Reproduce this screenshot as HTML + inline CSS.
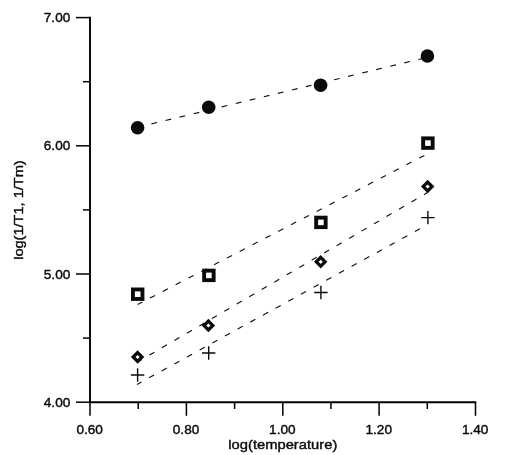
<!DOCTYPE html>
<html><head><meta charset="utf-8"><title>log(1/T1, 1/Tm) vs log(temperature)</title>
<style>html,body{margin:0;padding:0;background:#fff}body{width:508px;height:455px;overflow:hidden}</style></head>
<body>
<svg width="508" height="455" viewBox="0 0 508 455" style="display:block">
<rect width="508" height="455" fill="#fff"/>
<g stroke="#000" stroke-width="1.5" fill="none" stroke-linecap="butt">
<path d="M90.0,16.85 V402.2 H476.25" stroke-width="1.9" stroke-linejoin="miter"/>
<path d="M76.0,402.2 H90.0"/>
<path d="M83.0,338.1 H90.0"/>
<path d="M76.0,274.0 H90.0"/>
<path d="M83.0,209.9 H90.0"/>
<path d="M76.0,145.8 H90.0"/>
<path d="M83.0,81.7 H90.0"/>
<path d="M76.0,17.6 H90.0"/>
<path d="M90.0,402.2 V415.8"/>
<path d="M138.2,402.2 V409.0"/>
<path d="M186.4,402.2 V415.8"/>
<path d="M234.6,402.2 V409.0"/>
<path d="M282.8,402.2 V415.8"/>
<path d="M330.9,402.2 V409.0"/>
<path d="M379.1,402.2 V415.8"/>
<path d="M427.3,402.2 V409.0"/>
<path d="M475.5,402.2 V415.8"/>
</g>
<g font-family="'Liberation Sans', Arial, sans-serif" font-size="13.4" fill="#0a0a0a" stroke="#0a0a0a" stroke-width="0.4">
<text x="43.8" y="406.8" textLength="26.5" lengthAdjust="spacingAndGlyphs">4.00</text>
<text x="43.8" y="278.6" textLength="26.5" lengthAdjust="spacingAndGlyphs">5.00</text>
<text x="43.8" y="150.4" textLength="26.5" lengthAdjust="spacingAndGlyphs">6.00</text>
<text x="43.8" y="22.2" textLength="26.5" lengthAdjust="spacingAndGlyphs">7.00</text>
<text x="76.4" y="433.9" textLength="26.5" lengthAdjust="spacingAndGlyphs">0.60</text>
<text x="172.8" y="433.9" textLength="26.5" lengthAdjust="spacingAndGlyphs">0.80</text>
<text x="269.1" y="433.9" textLength="26.5" lengthAdjust="spacingAndGlyphs">1.00</text>
<text x="365.5" y="433.9" textLength="26.5" lengthAdjust="spacingAndGlyphs">1.20</text>
<text x="461.9" y="433.9" textLength="26.5" lengthAdjust="spacingAndGlyphs">1.40</text>
<text x="228.3" y="449.0" font-size="13.7" textLength="109" lengthAdjust="spacingAndGlyphs">log(temperature)</text>
<text transform="translate(22.8,259.8) rotate(-90)" font-size="13.7" textLength="99.5" lengthAdjust="spacingAndGlyphs">log(1/T1, 1/Tm)</text>
</g>
<path d="M137.6,127.2 L427.4,57.3" stroke="#111" stroke-width="1.15" fill="none" stroke-dasharray="5.8 8.65" stroke-dashoffset="0.2"/>
<path d="M137.6,304.5 L427.5,153.8" stroke="#111" stroke-width="1.15" fill="none" stroke-dasharray="5.8 8.65" stroke-dashoffset="0.5"/>
<path d="M137.6,362 L427.5,192.6" stroke="#111" stroke-width="1.15" fill="none" stroke-dasharray="5.8 8.65" stroke-dashoffset="0.7"/>
<path d="M137.0,384.5 L427.5,224.6" stroke="#111" stroke-width="1.15" fill="none" stroke-dasharray="5.8 8.65" stroke-dashoffset="0.7"/>
<circle cx="137.6" cy="127.7" r="6.8" fill="#0a0a0a"/>
<circle cx="208.7" cy="107.2" r="6.8" fill="#0a0a0a"/>
<circle cx="320.6" cy="85.3" r="6.8" fill="#0a0a0a"/>
<circle cx="427.4" cy="56.0" r="6.8" fill="#0a0a0a"/>
<rect x="132.95" y="289.45" width="9.5" height="9.5" fill="#fff" stroke="#0a0a0a" stroke-width="3.9"/>
<rect x="204.15" y="270.65" width="9.5" height="9.5" fill="#fff" stroke="#0a0a0a" stroke-width="3.9"/>
<rect x="316.15" y="217.65" width="9.5" height="9.5" fill="#fff" stroke="#0a0a0a" stroke-width="3.9"/>
<rect x="423.15" y="138.35" width="9.5" height="9.5" fill="#fff" stroke="#0a0a0a" stroke-width="3.9"/>
<path d="M137.6,352.6 L142.0,357.0 L137.6,361.4 L133.2,357.0 Z" fill="#fff" stroke="#0a0a0a" stroke-width="3.3" stroke-linejoin="miter"/>
<path d="M208.4,321.1 L212.8,325.5 L208.4,329.9 L204.0,325.5 Z" fill="#fff" stroke="#0a0a0a" stroke-width="3.3" stroke-linejoin="miter"/>
<path d="M320.7,257.40000000000003 L325.09999999999997,261.8 L320.7,266.2 L316.3,261.8 Z" fill="#fff" stroke="#0a0a0a" stroke-width="3.3" stroke-linejoin="miter"/>
<path d="M427.7,182.2 L432.09999999999997,186.6 L427.7,191.0 L423.3,186.6 Z" fill="#fff" stroke="#0a0a0a" stroke-width="3.3" stroke-linejoin="miter"/>
<path d="M130.9,375.0 H144.29999999999998 M137.6,368.3 V381.7" stroke="#0a0a0a" stroke-width="1.4" fill="none"/>
<path d="M202.0,353.0 H215.39999999999998 M208.7,346.3 V359.7" stroke="#0a0a0a" stroke-width="1.4" fill="none"/>
<path d="M314.2,292.5 H327.59999999999997 M320.9,285.8 V299.2" stroke="#0a0a0a" stroke-width="1.4" fill="none"/>
<path d="M421.2,217.6 H434.59999999999997 M427.9,210.9 V224.29999999999998" stroke="#0a0a0a" stroke-width="1.4" fill="none"/>
</svg>
</body></html>
